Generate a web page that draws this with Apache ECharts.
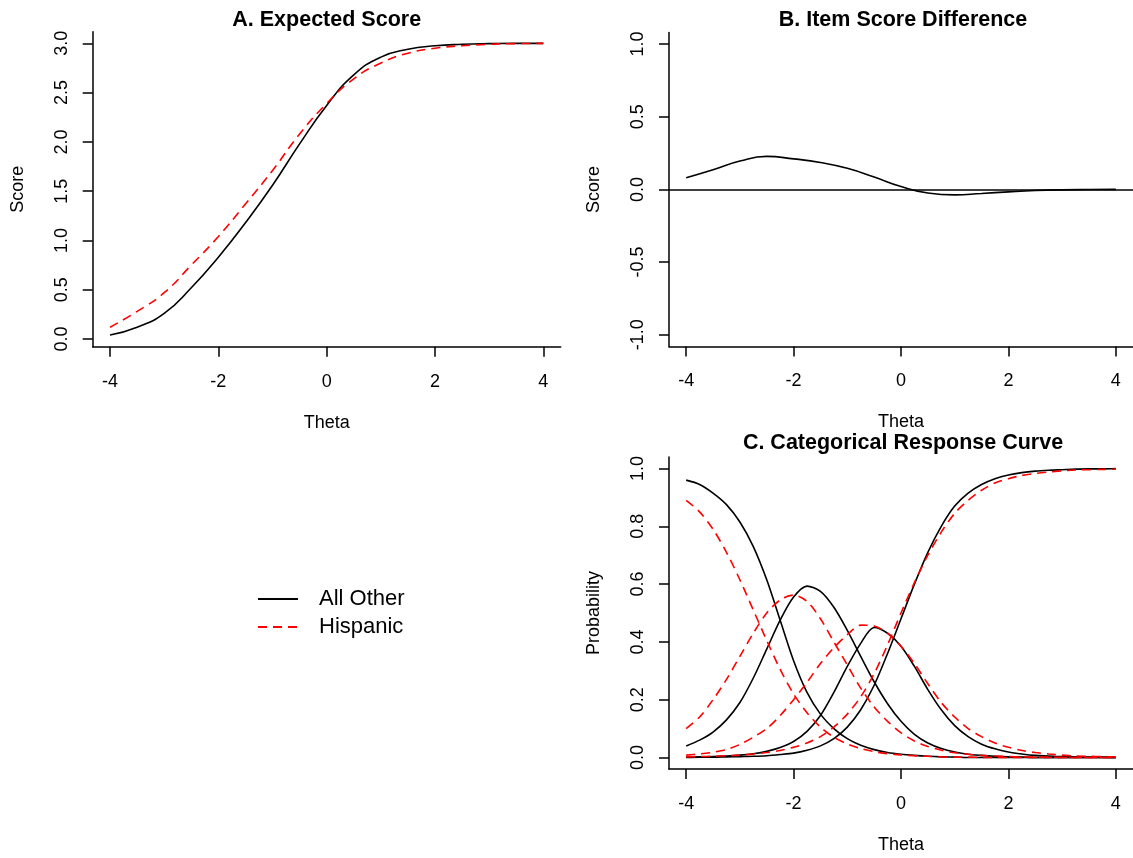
<!DOCTYPE html>
<html>
<head>
<meta charset="utf-8">
<script src="https://cdn.jsdelivr.net/npm/echarts@6/dist/echarts.min.js"></script>
<style>body{margin:0;background:#fff}</style>
</head>
<body>
<div id="main" style="width:1133px;height:858px"></div>
<script type="text/javascript">
// theta grid used by panels A and B
var theta05 = [-4, -3.5, -3, -2.5, -2, -1.5, -1, -0.5, 0, 0.5, 1, 1.5, 2, 2.5, 3, 3.5, 4];
// A. expected score
var scoreAllOther = [0.04, 0.12, 0.26, 0.52, 0.83, 1.18, 1.56, 1.98, 2.37, 2.68, 2.86, 2.94, 2.975, 2.99, 2.997, 3.0, 3.0];
var scoreHispanic = [0.12, 0.28, 0.47, 0.75, 1.04, 1.37, 1.71, 2.08, 2.39, 2.64, 2.80, 2.90, 2.95, 2.975, 2.99, 2.997, 3.0];
// B. item score difference
var scoreDiff = [0.08, 0.135, 0.195, 0.227, 0.21, 0.185, 0.145, 0.085, 0.02, -0.025, -0.038, -0.028, -0.017, -0.008, -0.003, -0.001, 0];

// C. categorical response curves, finer theta grid
var theta025 = [-4, -3.75, -3.5, -3.25, -3, -2.75, -2.5, -2.25, -2, -1.75, -1.5, -1.25, -1, -0.75, -0.5, -0.25,
	0, 0.25, 0.5, 0.75, 1, 1.25, 1.5, 1.75, 2, 2.25, 2.5, 2.75, 3, 3.25, 3.5, 3.75, 4];
var probAllOther0 = [0.96, 0.945, 0.915, 0.875, 0.815, 0.73, 0.615, 0.475, 0.335, 0.225, 0.15, 0.10, 0.065, 0.042, 0.027, 0.017,
	0.011, 0.007, 0.004, 0.002, 0.001, 0, 0, 0, 0, 0, 0, 0, 0, 0, 0, 0, 0];
var probAllOther1 = [0.04, 0.06, 0.088, 0.13, 0.19, 0.275, 0.375, 0.475, 0.555, 0.593, 0.575, 0.52, 0.44, 0.35, 0.262, 0.186,
	0.125, 0.08, 0.05, 0.031, 0.019, 0.011, 0.007, 0.004, 0.002, 0.001, 0, 0, 0, 0, 0, 0, 0];
var probAllOther2 = [0.001, 0.002, 0.003, 0.005, 0.008, 0.013, 0.021, 0.034, 0.055, 0.09, 0.145, 0.225, 0.315, 0.395, 0.45, 0.43,
	0.385, 0.315, 0.235, 0.165, 0.11, 0.072, 0.046, 0.03, 0.019, 0.012, 0.007, 0.005, 0.003, 0.002, 0.001, 0.001, 0];
var probAllOther3 = [0, 0.001, 0.001, 0.002, 0.003, 0.004, 0.006, 0.01, 0.015, 0.025, 0.04, 0.065, 0.105, 0.165, 0.25, 0.36,
	0.48, 0.60, 0.71, 0.80, 0.87, 0.915, 0.945, 0.965, 0.978, 0.986, 0.991, 0.994, 0.996, 0.998, 0.999, 0.999, 1];
var probHispanic0 = [0.89, 0.85, 0.79, 0.71, 0.615, 0.51, 0.405, 0.305, 0.22, 0.155, 0.105, 0.07, 0.047, 0.031, 0.02, 0.013,
	0.009, 0.006, 0.004, 0.002, 0.001, 0.001, 0, 0, 0, 0, 0, 0, 0, 0, 0, 0, 0];
var probHispanic1 = [0.10, 0.14, 0.20, 0.27, 0.35, 0.43, 0.50, 0.545, 0.562, 0.54, 0.48, 0.40, 0.32, 0.24, 0.175, 0.125,
	0.085, 0.057, 0.038, 0.025, 0.016, 0.011, 0.007, 0.005, 0.003, 0.002, 0.001, 0.001, 0, 0, 0, 0, 0];
var probHispanic2 = [0.008, 0.012, 0.018, 0.027, 0.045, 0.07, 0.10, 0.145, 0.20, 0.26, 0.325, 0.38, 0.425, 0.458, 0.455, 0.43,
	0.385, 0.325, 0.255, 0.19, 0.14, 0.10, 0.072, 0.05, 0.035, 0.024, 0.017, 0.012, 0.008, 0.005, 0.004, 0.003, 0.002];
var probHispanic3 = [0.002, 0.003, 0.004, 0.006, 0.008, 0.012, 0.017, 0.024, 0.035, 0.05, 0.072, 0.105, 0.15, 0.21, 0.29, 0.39,
	0.50, 0.605, 0.70, 0.78, 0.845, 0.89, 0.925, 0.95, 0.965, 0.976, 0.983, 0.988, 0.992, 0.995, 0.996, 0.997, 0.998];

// tick labels
var thetaTicks = [-4, -2, 0, 2, 4];
var scoreTicks = [0, 0.5, 1, 1.5, 2, 2.5, 3];
var diffTicks = [-1, -0.5, 0, 0.5, 1];
var probTicks = [0, 0.2, 0.4, 0.6, 0.8, 1];

var font = 'Liberation Sans, Arial, Helvetica, sans-serif';

function pairs(xs, ys) {
	var out = [];
	for (var i = 0; i < xs.length; i++) {
		out.push([xs[i], ys[i]]);
	}
	return out;
}

function xAxisFor(gridIndex) {
	return {
		type : 'value',
		gridIndex : gridIndex,
		min : -4.32,
		max : 4.32,
		name : 'Theta',
		nameLocation : 'middle',
		nameGap : 67,
		nameTextStyle : { fontSize : 18, color : '#000', fontFamily : font },
		axisLine : { onZero : false, lineStyle : { color : '#000', width : 1.5 } },
		axisTick : { customValues : thetaTicks, length : 10, lineStyle : { color : '#000', width : 1.5 } },
		axisLabel : { customValues : thetaTicks, margin : 26, fontSize : 18, color : '#000', fontFamily : font },
		splitLine : { show : false }
	};
}

function yAxisFor(gridIndex, name, min, max, ticks) {
	return {
		type : 'value',
		gridIndex : gridIndex,
		min : min,
		max : max,
		name : name,
		nameLocation : 'middle',
		nameGap : 66,
		nameTextStyle : { fontSize : 18, color : '#000', fontFamily : font },
		axisLine : { onZero : false, lineStyle : { color : '#000', width : 1.5 } },
		axisTick : { customValues : ticks, length : 10, lineStyle : { color : '#000', width : 1.5 } },
		axisLabel : {
			customValues : ticks,
			rotate : 90,
			margin : 22,
			fontSize : 18,
			color : '#000',
			fontFamily : font,
			formatter : function(value) {
				return value.toFixed(1);
			}
		},
		splitLine : { show : false }
	};
}

function curve(name, grid, xs, ys, dashed, smooth) {
	return {
		name : name,
		type : 'line',
		xAxisIndex : grid,
		yAxisIndex : grid,
		data : pairs(xs, ys),
		smooth : smooth,
		symbol : 'none',
		silent : true,
		lineStyle : {
			color : dashed ? '#ff0000' : '#000000',
			width : 1.6,
			type : dashed ? [9, 6] : 'solid'
		},
		itemStyle : { color : dashed ? '#ff0000' : '#000000' }
	};
}

var titleStyle = { fontSize : 21.5, fontWeight : 'bold', color : '#000', fontFamily : font };

var series = [
	curve('All Other', 0, theta05, scoreAllOther, false, 0.5),
	curve('Hispanic', 0, theta05, scoreHispanic, true, 0.5),
	curve('Difference', 1, theta05, scoreDiff, false, 0.5)
];
// zero reference line in panel B
series[2].markLine = {
	symbol : 'none',
	silent : true,
	label : { show : false },
	lineStyle : { color : '#000', type : 'solid', width : 1.5 },
	data : [ { yAxis : 0 } ]
};

// panel C: lighter smoothing so the peaks stay rounded, not flat
var blackCats = [probAllOther0, probAllOther1, probAllOther2, probAllOther3];
var redCats = [probHispanic0, probHispanic1, probHispanic2, probHispanic3];
for (var k = 0; k < 4; k++) {
	series.push(curve('All Other', 2, theta025, blackCats[k], false, 0.3));
}
for (var k = 0; k < 4; k++) {
	series.push(curve('Hispanic', 2, theta025, redCats[k], true, 0.3));
}

var chart = echarts.init(document.getElementById('main'));
var option = {
	animation : false,
	backgroundColor : '#ffffff',
	title : [
		{ text : 'A. Expected Score', left : 326.7, top : 9, textAlign : 'center', padding : 0, textStyle : titleStyle },
		{ text : 'B. Item Score Difference', left : 903, top : 9, textAlign : 'center', padding : 0, textStyle : titleStyle },
		{ text : 'C. Categorical Response Curve', left : 903, top : 432, textAlign : 'center', padding : 0, textStyle : titleStyle }
	],
	legend : {
		data : [ 'All Other', 'Hispanic' ],
		orient : 'vertical',
		left : 257,
		top : 588,
		padding : 0,
		itemWidth : 40,
		itemHeight : 14,
		itemGap : 6,
		selectedMode : false,
		// keep only the line sample, no marker in the middle
		itemStyle : { opacity : 0 },
		textStyle : { fontSize : 22, lineHeight : 22, color : '#000', fontFamily : font, padding : [0, 0, 0, 16] }
	},
	grid : [
		{ left : 92.7, top : 31.7, width : 468, height : 315 },
		{ left : 669, top : 32.4, width : 468, height : 314 },
		{ left : 669, top : 457, width : 468, height : 312 }
	],
	xAxis : [ xAxisFor(0), xAxisFor(1), xAxisFor(2) ],
	yAxis : [
		yAxisFor(0, 'Score', -0.078, 3.118, scoreTicks),
		yAxisFor(1, 'Score', -1.08, 1.08, diffTicks),
		yAxisFor(2, 'Probability', -0.04, 1.04, probTicks)
	],
	series : series
};
chart.setOption(option);
</script>
</body>
</html>
